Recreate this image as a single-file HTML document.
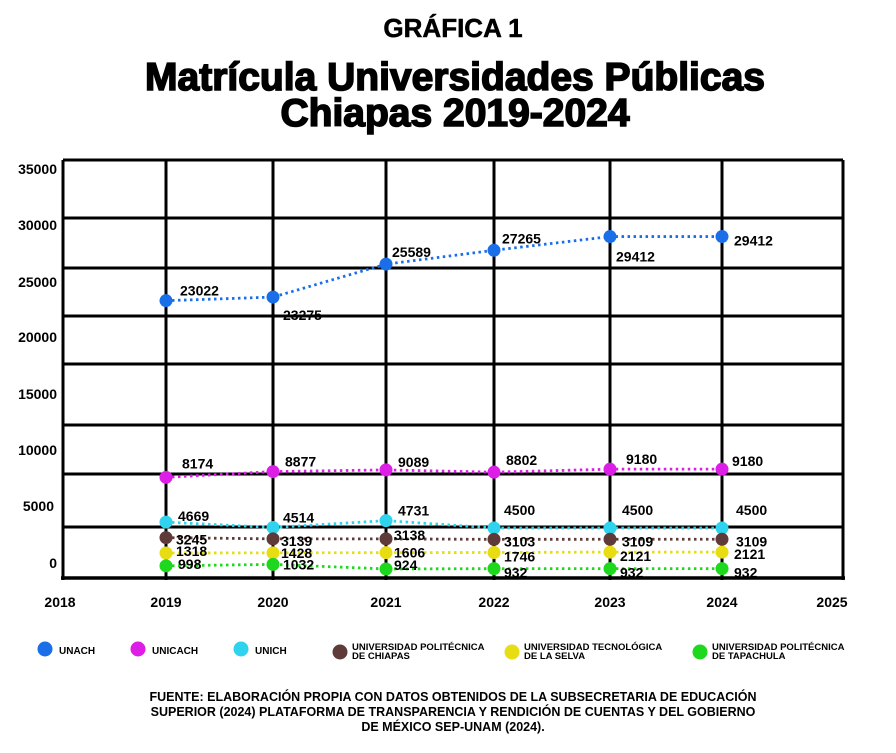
<!DOCTYPE html>
<html><head><meta charset="utf-8">
<style>
body{margin:0;background:#fff;width:896px;height:753px;overflow:hidden;font-family:"Liberation Sans",sans-serif}
svg{display:block}
text{font-family:"Liberation Sans",sans-serif;font-weight:bold}
</style></head><body>
<svg id="chart" width="896" height="753" viewBox="0 0 896 753">
<text x="453" y="37" text-anchor="middle" font-size="26" stroke="#000" stroke-width="0.5">GRÁFICA 1</text>
<text x="455" y="90" text-anchor="middle" font-size="39" stroke="#000" stroke-width="1.6">Matrícula Universidades Públicas</text>
<text x="455" y="126" text-anchor="middle" font-size="39" stroke="#000" stroke-width="1.6">Chiapas 2019-2024</text>
<g id="grid"></g>
<g id="series"></g>
<g id="legend"></g>
<text x="453" y="701" text-anchor="middle" font-size="12.5">FUENTE:  ELABORACIÓN PROPIA CON DATOS OBTENIDOS DE LA SUBSECRETARIA DE EDUCACIÓN</text>
<text x="453" y="716" text-anchor="middle" font-size="12.5">SUPERIOR (2024) PLATAFORMA DE TRANSPARENCIA Y RENDICIÓN DE CUENTAS Y DEL GOBIERNO</text>
<text x="453" y="731" text-anchor="middle" font-size="12.5">DE MÉXICO SEP-UNAM (2024).</text>
</svg>
<script>
const years = [2019, 2020, 2021, 2022, 2023, 2024];
const xTickLabels = ["2018","2019","2020","2021","2022","2023","2024","2025"];
const yTickLabels = ["35000","30000","25000","20000","15000","10000","5000","0"];
const unach = [23022, 23275, 25589, 27265, 29412, 29412];
const unicach = [8174, 8877, 9089, 8802, 9180, 9180];
const unich = [4669, 4514, 4731, 4500, 4500, 4500];
const upchiapas = [3245, 3139, 3138, 3103, 3109, 3109];
const utselva = [1318, 1428, 1606, 1746, 2121, 2121];
const uptapachula = [998, 1032, 924, 932, 932, 932];
const seriesNames = ["UNACH","UNICACH","UNICH","UNIVERSIDAD POLITÉCNICA|DE CHIAPAS","UNIVERSIDAD TECNOLÓGICA|DE LA SELVA","UNIVERSIDAD POLITÉCNICA|DE TAPACHULA"];

const NS="http://www.w3.org/2000/svg";
function mk(tag,attrs,parent){const e=document.createElementNS(NS,tag);for(const k in attrs)e.setAttribute(k,attrs[k]);parent.appendChild(e);return e;}
const colX=[166,273,386,494,610,722];
function xScale(year){const i=year-2019;if(i>=0&&i<=5&&Number.isInteger(i))return colX[i];return 166+(year-2019)*111;}
// hand-drawn chart: piecewise axis mapping
const yKv=[0,900,1300,2200,3200,4500,4700,8200,9200,23000,25600,27300,29500,35000];
const yKp=[575,570,553,552,538,528,521,477,469,301,264,250,236,180];
function yScale(v){for(let i=1;i<yKv.length;i++){if(v<=yKv[i]){const t=(v-yKv[i-1])/(yKv[i]-yKv[i-1]);return yKp[i-1]+t*(yKp[i]-yKp[i-1]);}}return yKp[yKp.length-1];}

const grid=document.getElementById('grid');
const hLines=[160,218,268,316,364,425,474,527];
hLines.forEach((y,i)=>{const l=mk('line',{x1:63,x2:843,y1:y,y2:y,stroke:'#000','stroke-width':3},grid);

});
const vl=[[63,160,580],[843,160,580]].concat(colX.map(x=>[x,160,580]));
vl.forEach((v,i)=>{const l=mk('line',{x1:v[0],x2:v[0],y1:v[1],y2:v[2],stroke:'#000','stroke-width':3},grid);

});
const bl=mk('line',{x1:61,x2:845,y1:578,y2:578,stroke:'#000','stroke-width':3.5},grid);


const yLabY=[174,230,287,342,399,455,511,568];
yTickLabels.forEach((t,i)=>{const e=mk('text',{x:i==6?54:57,y:yLabY[i],'text-anchor':'end','font-size':14},grid);e.textContent=t;

});
xTickLabels.forEach((t,i)=>{const yr=2018+i;const e=mk('text',{x:xScale(yr),y:607,'text-anchor':'middle','font-size':14},grid);e.textContent=t;
if(yr==2018)e.setAttribute('x',60);
if(yr==2025)e.setAttribute('x',832);

});

const allSeries=[unach,unicach,unich,upchiapas,utselva,uptapachula];
const colors=['#1a6fe8','#dd1ee6','#2fd3ee','#5e3b38','#e8dc12','#1ed81e'];
const lblOff=[
 [[14,-10],[10,18],[6,-12],[8,-12],[6,20],[12,4]],
 [[16,-14],[12,-10],[12,-8],[12,-12],[16,-10],[10,-8]],
 [[12,-6],[10,-10],[12,-10],[10,-18],[12,-18],[14,-18]],
 [[10,2],[8,2],[8,-4],[10,2],[12,2],[14,2]],
 [[10,-2],[8,0],[8,0],[10,4],[10,4],[12,2]],
 [[12,-2],[10,0],[8,-4],[10,4],[10,4],[12,4]]];
const sg=document.getElementById('series');
allSeries.forEach((arr,s)=>{
 const g=mk('g',{},sg);
 
 
 const pts=arr.map((v,i)=>xScale(years[i])+','+yScale(v)).join(' ');
 const pl=mk('polyline',{points:pts,fill:'none',stroke:colors[s],'stroke-width':2.8,'stroke-dasharray':'2.5 3.5'},g);
 
 
 arr.forEach((v,i)=>{
  const c=mk('circle',{cx:xScale(years[i]),cy:yScale(v),r:6.5,fill:colors[s]},g);
  
  
  const o=lblOff[s][i];
  const t=mk('text',{x:xScale(years[i])+o[0],y:yScale(v)+o[1]+5,'font-size':14},g);
  t.textContent=String(v);
  
  
 });
});

const lg=document.getElementById('legend');
const legX=[45,138,241,340,512,700];
seriesNames.forEach((n,i)=>{
 const g=mk('g',{},lg);
 
 
 mk('circle',{cx:legX[i],cy:i<3?649:652,r:7.5,fill:colors[i]},g);
 const parts=n.split('|');
 if(parts.length==1){const t=mk('text',{x:legX[i]+14,y:654,'font-size':10},g);t.textContent=n;}
 else{parts.forEach((p,k)=>{const t=mk('text',{x:legX[i]+12,y:650+k*9,'font-size':9.5},g);t.textContent=p;});}
});
</script>
</body></html>
